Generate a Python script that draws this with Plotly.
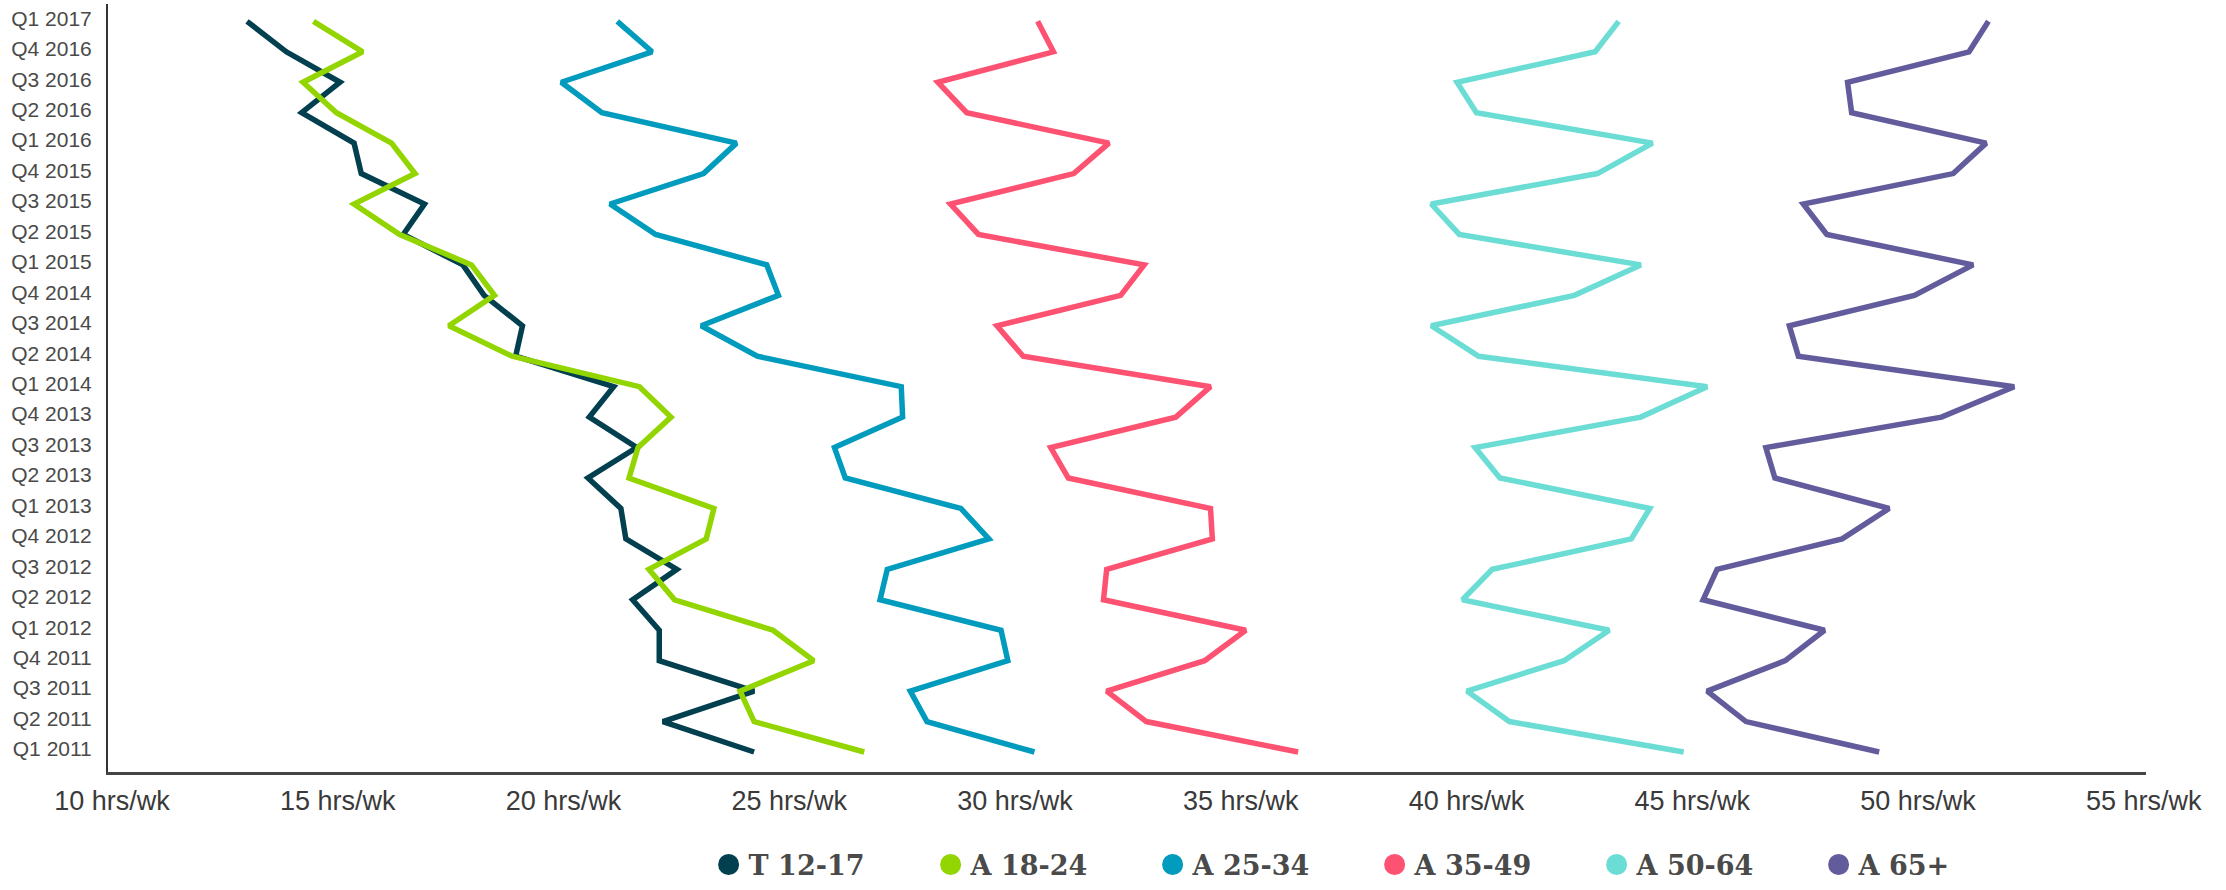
import plotly.graph_objects as go

quarters = ["Q1 2011", "Q2 2011", "Q3 2011", "Q4 2011",
            "Q1 2012", "Q2 2012", "Q3 2012", "Q4 2012",
            "Q1 2013", "Q2 2013", "Q3 2013", "Q4 2013",
            "Q1 2014", "Q2 2014", "Q3 2014", "Q4 2014",
            "Q1 2015", "Q2 2015", "Q3 2015", "Q4 2015",
            "Q1 2016", "Q2 2016", "Q3 2016", "Q4 2016",
            "Q1 2017"]

t_12_17 = [24.22, 22.20, 24.22, 22.12, 22.12, 21.53, 22.51, 21.38, 21.27, 20.54,
           21.62, 20.57, 21.11, 18.94, 19.09, 18.24, 17.77, 16.45, 16.92, 15.52,
           15.36, 14.20, 15.05, 13.86, 12.99]
a_18_24 = [26.66, 24.22, 23.91, 25.54, 24.64, 22.46, 21.89, 23.16, 23.33, 21.45,
           21.65, 22.38, 21.68, 18.86, 17.46, 18.47, 17.96, 16.37, 15.36, 16.71,
           16.19, 14.97, 14.23, 15.55, 14.46]
a_25_34 = [30.43, 28.05, 27.68, 29.84, 29.69, 27.01, 27.17, 29.42, 28.80, 26.24,
           26.00, 27.51, 27.48, 24.29, 23.05, 24.76, 24.50, 22.04, 21.03, 23.10,
           23.83, 20.85, 19.95, 21.96, 21.19]
a_35_49 = [36.27, 32.91, 32.03, 34.20, 35.11, 31.96, 32.03, 34.37, 34.33, 31.18,
           30.79, 33.56, 34.33, 30.18, 29.60, 32.34, 32.86, 29.19, 28.57, 31.30,
           32.08, 28.93, 28.29, 30.85, 30.50]
a_50_64 = [44.81, 40.95, 40.01, 42.16, 43.16, 39.91, 40.57, 43.65, 44.06, 40.74,
           40.19, 43.86, 45.33, 40.27, 39.22, 42.39, 43.86, 39.84, 39.22, 42.90,
           44.12, 40.22, 39.79, 42.85, 43.37]
a_65_plus = [49.14, 46.19, 45.33, 47.06, 47.93, 45.24, 45.55, 48.32, 49.36, 46.83,
             46.63, 50.52, 52.13, 47.35, 47.15, 49.92, 51.22, 47.98, 47.46, 50.78,
             51.51, 48.53, 48.44, 51.13, 51.56]

series_names = ["T 12-17", "A 18-24", "A 25-34", "A 35-49", "A 50-64", "A 65+"]
series_values = [t_12_17, a_18_24, a_25_34, a_35_49, a_50_64, a_65_plus]
colors = ["#023f4f", "#93d500", "#009bbd", "#fd5271", "#6bddd5", "#625c9d"]

x_tick_vals = [10, 15, 20, 25, 30, 35, 40, 45, 50, 55]
x_tick_text = [f"{v} hrs/wk" for v in x_tick_vals]

y_idx = list(range(len(quarters)))

fig = go.Figure()
for name, vals, col in zip(series_names, series_values, colors):
    fig.add_trace(go.Scatter(
        x=vals, y=y_idx, mode="lines", name=name,
        line=dict(color=col, width=5.5),
        showlegend=False, hoverinfo="x+name",
    ))
for name, col in zip(series_names, colors):
    fig.add_trace(go.Scatter(
        x=[None], y=[None], mode="markers", name=name,
        marker=dict(color=col, size=16, line=dict(color=col, width=5)),
        showlegend=True,
    ))

fig.update_layout(
    width=2226, height=890,
    margin=dict(l=108, r=80, t=4, b=118, autoexpand=False),
    paper_bgcolor="white", plot_bgcolor="white",
    xaxis=dict(
        range=[9.91, 55.05],
        tickvals=x_tick_vals, ticktext=x_tick_text,
        showgrid=False, zeroline=False,
        showline=True, linecolor="#444444", linewidth=3,
        ticks="", ticklabelstandoff=3,
        tickfont=dict(family="Liberation Sans, Arial, sans-serif", size=27, color="#3a3a3a"),
    ),
    yaxis=dict(
        range=[-0.657, 24.57],
        tickvals=y_idx, ticktext=quarters,
        showgrid=False, zeroline=False,
        showline=True, linecolor="#333333", linewidth=2,
        ticks="", ticklabelstandoff=10, ticklabelshift=-3,
        tickfont=dict(family="Liberation Sans, Arial, sans-serif", size=21, color="#4a4a4a"),
    ),
    legend=dict(
        orientation="h",
        x=0.6215, xanchor="center",
        y=-0.121, yanchor="middle",
        entrywidth=177, entrywidthmode="pixels",
        font=dict(family="DejaVu Serif, Georgia, serif", size=27, color="#4a4a4a", weight="bold"),
        bgcolor="rgba(0,0,0,0)",
    ),
)

fig.write_html("out.html")
